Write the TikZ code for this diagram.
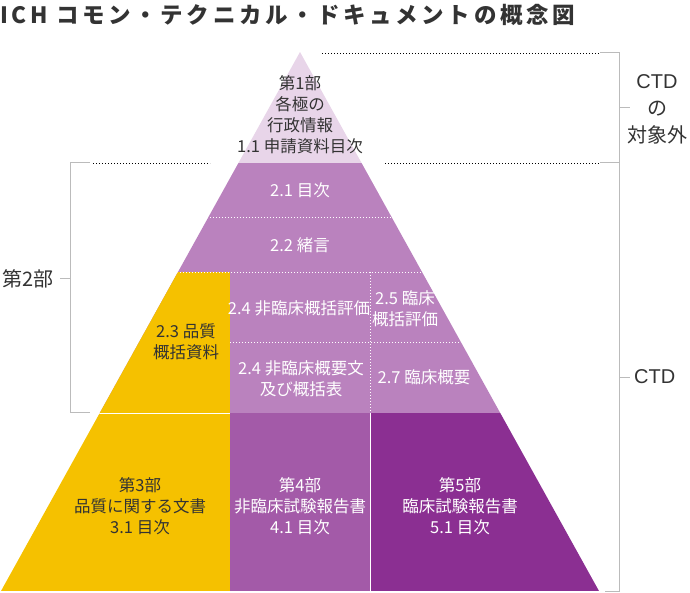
\documentclass[tikz,border=0pt]{standalone}
\usepackage{fontspec}
\setmainfont{Noto Sans CJK JP}
\newfontfamily\latinsf{Liberation Sans}
\definecolor{partone}{HTML}{E8D5E9}
\definecolor{parttwo}{HTML}{BA82BE}
\definecolor{qualyel}{HTML}{F5C100}
\definecolor{nonclin}{HTML}{A35AA8}
\definecolor{clinic}{HTML}{8B2F92}
\definecolor{darktext}{HTML}{333333}
\definecolor{bracketgray}{HTML}{BBBBBB}
\newcommand{\Layer}[4][white]{\node[layertext, text=#1] (#2) at (#3) {#4};}

\begin{document}
\begin{tikzpicture}[x=1pt, y=-1pt,
  layertext/.style={align=center, inner sep=0pt, font=\fontsize{16.5}{21}\selectfont},
  sidetext/.style={align=center, inner sep=0pt, text=darktext, font=\fontsize{20}{27}\selectfont},
  bracket/.style={draw=bracketgray, line width=1pt},
  guide/.style={draw=black, line width=0.8pt, dash pattern=on 1pt off 2pt},
  divider/.style={draw=white, line width=0.8pt, dash pattern=on 1pt off 2pt}]

\useasboundingbox (0,0) rectangle (690,593);

\node[anchor=west, inner sep=0pt, text=darktext,
  font=\fontsize{22.5}{22.5}\selectfont\bfseries\addfontfeatures{LetterSpace=16}] (title) at (0,15)
  {ICH コモン・テクニカル・ドキュメントの概念図};

\coordinate (apex) at (300,52);
\coordinate (bl) at (1,591);
\coordinate (br) at (599,591);

% pyramid bands
\begin{scope}
	\clip (apex) -- (bl) -- (br) -- cycle;
	\fill[partone] (0,52) rectangle (690,163);
	\fill[parttwo] (0,163) rectangle (690,413);
	\fill[qualyel] (0,272) rectangle (230,591);
	\fill[nonclin] (230,413) rectangle (370,591);
	\fill[clinic]  (370,413) rectangle (690,591);
	
	\draw[divider] (0,217) -- (690,217);
	\draw[divider] (0,272) -- (690,272);
	\draw[divider] (230,342) -- (690,342);
	\draw[divider] (370,272) -- (370,413);
	\draw[white, line width=1pt] (0,413) -- (230,413);
	\draw[white, line width=0.6pt] (370,413) -- (370,591);
\end{scope}

\Layer[darktext]{p1}{300,114.5}{第1部\\各極の\\行政情報\\1.1 申請資料目次}
\Layer{m21}{300,190}{2.1 目次}
\Layer{m22}{300,245}{2.2 緒言}
\Layer[darktext]{m23}{186,342}{2.3 品質\\概括資料}
\Layer{m24a}{299,308}{2.4 非臨床概括評価}
\Layer{m25}{405,309}{2.5 臨床\\概括評価}
\Layer{m24b}{301,379}{2.4 非臨床概要文\\及び概括表}
\Layer{m27}{424,377}{2.7 臨床概要}
\Layer[darktext]{p3}{140,506}{第3部\\品質に関する文書\\3.1 目次}
\Layer{p4}{300,506}{第4部\\非臨床試験報告書\\4.1 目次}
\Layer{p5}{460,506}{第5部\\臨床試験報告書\\5.1 目次}

% dotted guides
\draw[guide] (322,53) -- (600,53);
\draw[guide] (93,163) -- (210,163);
\draw[guide] (385,163) -- (600,163);

% left bracket
\node[sidetext, anchor=east] (part2) at (54,279) {第2部};
\draw[bracket] (90,163) -- (70,163) -- (70,412) -- (90,412);
\draw[bracket] (70,279) -- ([xshift=6pt]part2.east);

% right bracket
\node[sidetext] (outside) at (657,109) {{\latinsf CTD}\\の\\対象外};
\node[sidetext, anchor=west] (ctd) at (634,377) {\latinsf CTD};
\draw[bracket] (600,53) -- (619,53) -- (619,591) -- (605,591);
\draw[bracket] (600,163) -- (619,163);
\draw[bracket] (619,108) -- (630,108);
\draw[bracket] (619,377) -- ([xshift=-4pt]ctd.west);

\end{tikzpicture}
\end{document}
